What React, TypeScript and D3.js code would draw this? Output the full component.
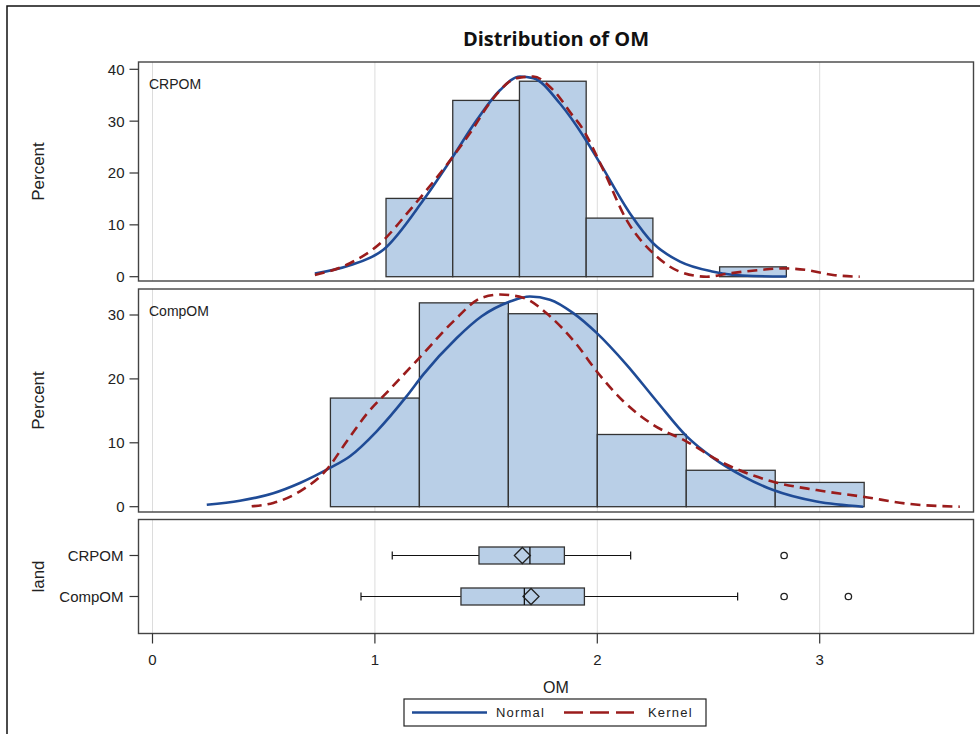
import React from "react";
import * as d3 from "d3";

const title = "Distribution of OM";
const xTicks = [0, 1, 2, 3];
const groups = ["CRPOM", "CompOM"];

// Histogram bins (edges) and percents
const crpomEdges = [1.05, 1.35, 1.65, 1.95, 2.25, 2.55, 2.85];
const crpomPct = [15.1, 34.0, 37.7, 11.3, 0, 1.9];
const compEdges = [0.8, 1.2, 1.6, 2.0, 2.4, 2.8, 3.2];
const compPct = [17.0, 31.9, 30.2, 11.3, 5.7, 3.8];

// Curves: [OM, percent]
const crpomNormal: [number, number][] = [
  [0.73, 0.6], [0.888, 2.2], [1.038, 5.2], [1.218, 14.8], [1.345, 22.8], [1.458, 30.2],
  [1.563, 36.0], [1.652, 38.6], [1.712, 38.3], [1.832, 33.4], [1.945, 26.6], [2.012, 21.9],
  [2.147, 12.2], [2.252, 6.4], [2.372, 2.9], [2.522, 0.96], [2.70, 0.13], [2.85, 0.05],
];
const crpomKernel: [number, number][] = [
  [0.73, 0.33], [0.888, 2.6], [1.023, 6.4], [1.158, 12.9], [1.334, 22.2], [1.428, 27.7],
  [1.532, 34.4], [1.638, 38.3], [1.712, 38.6], [1.802, 36.0], [1.892, 30.9], [1.922, 29.3],
  [2.027, 20.6], [2.132, 10.9], [2.252, 4.5], [2.372, 0.96], [2.492, 0.0], [2.597, 0.65],
  [2.732, 1.3], [2.836, 1.6], [2.94, 1.3], [3.06, 0.33], [3.18, 0.0],
];
const compNormal: [number, number][] = [
  [0.244, 0.31], [0.393, 0.94], [0.543, 2.1], [0.663, 3.7], [0.798, 6.06], [0.888, 7.9],
  [1.008, 11.8], [1.143, 17.3], [1.218, 20.7], [1.368, 26.4], [1.480, 29.8], [1.607, 32.1],
  [1.697, 32.9], [1.787, 32.4], [1.892, 30.3], [1.997, 27.2], [2.132, 22.2], [2.267, 16.5],
  [2.402, 11.0], [2.522, 7.6], [2.656, 4.76], [2.791, 2.6], [2.986, 0.8], [3.196, 0.0],
];
const compKernel: [number, number][] = [
  [0.446, 0.06], [0.543, 0.58], [0.663, 2.4], [0.783, 5.8], [0.873, 10.2], [0.963, 14.5],
  [1.068, 18.4], [1.203, 23.4], [1.353, 29.0], [1.480, 32.7], [1.563, 33.2], [1.667, 32.7],
  [1.787, 29.8], [1.907, 25.4], [1.997, 21.2], [2.117, 16.5], [2.252, 12.8], [2.402, 10.2],
  [2.552, 7.1], [2.791, 3.9], [2.986, 2.6], [3.196, 1.56], [3.406, 0.42], [3.63, 0.0],
];

// Box plot stats
const boxStats = [
  { name: "CRPOM", lo: 1.078, q1: 1.468, med: 1.697, q3: 1.852, hi: 2.15, mean: 1.663, outliers: [2.84] },
  { name: "CompOM", lo: 0.9375, q1: 1.387, med: 1.672, q3: 1.942, hi: 2.631, mean: 1.702, outliers: [2.84, 3.129] },
];

const FONT = "'Liberation Sans', Arial, sans-serif";
const BLUE = "#1f4b96";
const RED = "#9a1c1c";
const FILL = "#b9cfe7";
const EDGE = "#333333";
const GRID = "#dcdcdc";

const L = 138.5, R = 973.5;
const x = d3.scaleLinear().domain([0, 3]).range([152.5, 819.7]);

const p1 = { top: 62, bottom: 281 };
const p2 = { top: 289, bottom: 512 };
const p3 = { top: 519.5, bottom: 633.5 };
const y1 = d3.scaleLinear().domain([0, 40]).range([276.7, 69.3]);
const y2 = d3.scaleLinear().domain([0, 30]).range([506.7, 315]);
const yb = d3.scalePoint<string>().domain(groups).range([555.5, 596.5]);

function Hist({ edges, pct, y, label, ticks, panel }: any) {
  const line = d3.line<[number, number]>().x((d) => x(d[0])).y((d) => y(d[1])).curve(d3.curveMonotoneX);
  return (
    <g>
      {xTicks.map((t) => (
        <line key={t} x1={x(t)} x2={x(t)} y1={panel.top} y2={panel.bottom} stroke={GRID} strokeWidth={1} />
      ))}
      {pct.map((p: number, i: number) =>
        p > 0 ? (
          <rect key={i} x={x(edges[i])} width={x(edges[i + 1]) - x(edges[i])} y={y(p)} height={y(0) - y(p)}
            fill={FILL} stroke={EDGE} strokeWidth={1.3} />
        ) : null
      )}
      <path d={line(label.normal) || ""} fill="none" stroke={BLUE} strokeWidth={2.6} />
      <path d={line(label.kernel) || ""} fill="none" stroke={RED} strokeWidth={2.6} strokeDasharray="10,6" />
      <rect x={L} y={panel.top} width={R - L} height={panel.bottom - panel.top} fill="none" stroke="#444" strokeWidth={1.4} />
      {ticks.map((t: number) => (
        <g key={t}>
          <line x1={L - 9} x2={L} y1={y(t)} y2={y(t)} stroke="#333" strokeWidth={1.2} />
          <text x={L - 14} y={y(t)} dy="0.36em" textAnchor="end" fontSize={15} fill="#222">{t}</text>
        </g>
      ))}
      <text x={149} y={panel.top + 27} fontSize={14} fill="#222">{label.name}</text>
      <text transform={`translate(44,${(panel.top + panel.bottom) / 2}) rotate(-90)`} textAnchor="middle" fontSize={17} fill="#222">Percent</text>
    </g>
  );
}

export default function App() {
  const W = 980, H = 734;
  return (
    <svg width={W} height={H} style={{ position: "absolute", left: 0, top: 0, background: "#fff" }} fontFamily={FONT}>
      <rect x={0} y={0} width={W} height={H} fill="#fff" />
      <rect x={7} y={6} width={1200} height={1200} fill="none" stroke="#111" strokeWidth={1.5} />
      <text x={556} y={46} textAnchor="middle" fontSize={20} fontWeight="bold" fontFamily="'Open Sans', 'Liberation Sans', sans-serif" fill="#111">{title}</text>

      <Hist edges={crpomEdges} pct={crpomPct} y={y1} ticks={[0, 10, 20, 30, 40]} panel={p1}
        label={{ name: "CRPOM", normal: crpomNormal, kernel: crpomKernel }} />
      <Hist edges={compEdges} pct={compPct} y={y2} ticks={[0, 10, 20, 30]} panel={p2}
        label={{ name: "CompOM", normal: compNormal, kernel: compKernel }} />

      {/* Box plot panel */}
      <g>
        {xTicks.map((t) => (
          <line key={t} x1={x(t)} x2={x(t)} y1={p3.top} y2={p3.bottom} stroke={GRID} strokeWidth={1} />
        ))}
        {boxStats.map((b) => {
          const cy = yb(b.name) as number;
          const h = 8.5;
          const dm = 8;
          const mx = x(b.mean);
          return (
            <g key={b.name}>
              <line x1={x(b.lo)} x2={x(b.q1)} y1={cy} y2={cy} stroke="#111" strokeWidth={1.2} />
              <line x1={x(b.q3)} x2={x(b.hi)} y1={cy} y2={cy} stroke="#111" strokeWidth={1.2} />
              <line x1={x(b.lo)} x2={x(b.lo)} y1={cy - 4} y2={cy + 4} stroke="#111" strokeWidth={1.2} />
              <line x1={x(b.hi)} x2={x(b.hi)} y1={cy - 4} y2={cy + 4} stroke="#111" strokeWidth={1.2} />
              <rect x={x(b.q1)} y={cy - h} width={x(b.q3) - x(b.q1)} height={2 * h} fill={FILL} stroke={EDGE} strokeWidth={1.3} />
              <line x1={x(b.med)} x2={x(b.med)} y1={cy - h} y2={cy + h} stroke="#111" strokeWidth={1.3} />
              <path d={`M${mx - dm},${cy} L${mx},${cy - dm} L${mx + dm},${cy} L${mx},${cy + dm} Z`} fill="none" stroke="#222" strokeWidth={1.3} />
              {b.outliers.map((o, i) => (
                <circle key={i} cx={x(o)} cy={cy} r={3.2} fill="none" stroke="#222" strokeWidth={1.3} />
              ))}
            </g>
          );
        })}
        <rect x={L} y={p3.top} width={R - L} height={p3.bottom - p3.top} fill="none" stroke="#444" strokeWidth={1.4} />
        {groups.map((g) => (
          <g key={g}>
            <line x1={L - 9} x2={L} y1={yb(g)} y2={yb(g)} stroke="#333" strokeWidth={1.2} />
            <text x={L - 15} y={yb(g)} dy="0.36em" textAnchor="end" fontSize={15} fill="#222">{g}</text>
          </g>
        ))}
        <text transform={`translate(44,${(p3.top + p3.bottom) / 2}) rotate(-90)`} textAnchor="middle" fontSize={17} fill="#222">land</text>
        {xTicks.map((t) => (
          <g key={t}>
            <line x1={x(t)} x2={x(t)} y1={p3.bottom} y2={p3.bottom + 10} stroke="#333" strokeWidth={1.2} />
            <text x={x(t)} y={p3.bottom + 31} textAnchor="middle" fontSize={15} fill="#222">{t}</text>
          </g>
        ))}
        <text x={556} y={693} textAnchor="middle" fontSize={16} fill="#222">OM</text>
      </g>

      {/* Legend */}
      <g>
        <rect x={404} y={699} width={302} height={27} fill="#fff" stroke="#222" strokeWidth={1.2} />
        <line x1={412} x2={487} y1={712.5} y2={712.5} stroke={BLUE} strokeWidth={2.6} />
        <text x={496} y={712.5} dy="0.36em" fontSize={13} letterSpacing={1.2} fill="#222">Normal</text>
        <line x1={564} x2={634} y1={712.5} y2={712.5} stroke={RED} strokeWidth={2.6} strokeDasharray="19,7" />
        <text x={648} y={712.5} dy="0.36em" fontSize={13} letterSpacing={1.2} fill="#222">Kernel</text>
      </g>
    </svg>
  );
}
